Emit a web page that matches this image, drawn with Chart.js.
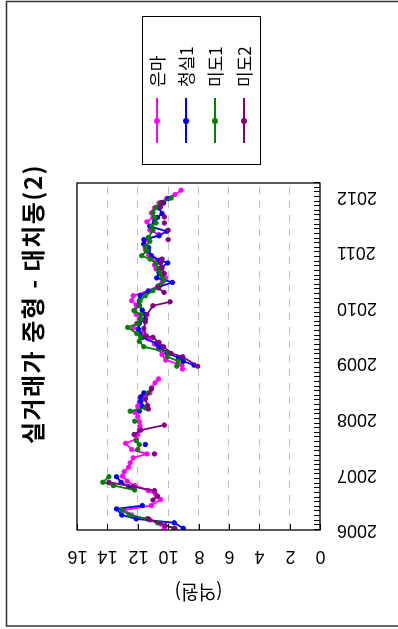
<!DOCTYPE html>
<html>
<head>
<meta charset="utf-8">
<script src="https://cdn.jsdelivr.net/npm/chart.js@4.4.1/dist/chart.umd.min.js"></script>
<style>
  html, body { margin: 0; padding: 0; background: #fff; overflow: hidden; }
  body { width: 398px; height: 629px; position: relative; }
  /* the R plot was saved sideways, so draw it upright and turn it */
  #wrap { position: absolute; left: 0; top: 0; width: 629px; height: 398px;
          transform-origin: 0 0; transform: translate(0, 629px) rotate(-90deg); }
</style>
</head>
<body>
<div id="wrap"><canvas id="chart" width="629" height="398"></canvas></div>
<script>
// --- Data ---

const chartTitle = '실거래가 중형 - 대치동(2)';
const yTitle = '(억원)';
const seriesNames = ['은마', '청실1', '미도1', '미도2'];
const seriesColors = ['#ff00ff', '#0000ff', '#008000', '#800080'];
const yearTicks = [2006, 2007, 2008, 2009, 2010, 2011, 2012];
const priceTicks = [0, 2, 4, 6, 8, 10, 12, 14, 16];

// 은마
const eunmaT = [2006.03, 2006.11, 2006.18, 2006.27, 2006.36, 2006.44, 2006.55, 2006.63, 2006.71, 2006.80, 2006.88, 2006.97,
  2007.05, 2007.13, 2007.21, 2007.30, 2007.37, 2007.45, 2007.56, 2007.64, 2007.72, 2007.80, 2007.87, 2007.95,
  2008.04, 2008.12, 2008.23, 2008.30, 2008.38, 2008.47, 2008.56, 2008.65, 2008.72, 2008.80, 2008.90, 2008.97,
  2009.06, 2009.16, 2009.26, 2009.35, 2009.44, 2009.55, 2009.64, 2009.72, 2009.80, 2009.88, 2009.96,
  2010.05, 2010.13, 2010.22, 2010.31, 2010.39, 2010.46, 2010.54, 2010.62, 2010.70, 2010.77, 2010.88, 2010.96,
  2011.05, 2011.15, 2011.23, 2011.32, 2011.40, 2011.47, 2011.55, 2011.63, 2011.71, 2011.80, 2011.89, 2011.97,
  2012.04, 2012.12];
const eunmaV = [10.25, 10.5, 11.2, 12.4, 12.9, 11.1, 10.5, 10.8, 11.3, 12.2, 12.7, 13.0,
  12.9, 12.6, 12.5, 12.3, 11.4, 12.4, 12.8, 12.1, 12.0, 11.9, 11.85, 11.9,
  12.0, 12.2, 12.0, 11.9, 11.85, 11.2, 11.1, 10.86, 10.64, null, 9.05, 9.1,
  10.16, 10.4, 10.64, 10.9, 11.3, 11.7, 12.3, 12.07, 11.9, 12.1, 12.2,
  12.1, 12.4, 12.3, 11.3, 10.7, 10.4, 10.16, 10.5, 10.8, 10.9, 10.9, 11.3,
  11.5, 11.6, 11.4, 10.6, 11.2, 11.2, 11.4, 11.0, 11.1, 10.9, 10.6, 10.1,
  9.55, 9.15];

// 청실1
const cheongsilT = [2006.03, 2006.13, 2006.20, 2006.27, 2006.38, 2006.44, 2006.60, 2006.78, 2006.86, 2006.96,
  2007.25, 2007.54, 2007.85,
  2008.14, 2008.23, 2008.32, 2008.40, 2008.47, 2008.75, 2008.97,
  2009.04, 2009.10, 2009.20, 2009.30, 2009.36, 2009.47, 2009.55, 2009.62, 2009.72, 2009.80, 2009.88, 2009.96,
  2010.05, 2010.13, 2010.22, 2010.30, 2010.38, 2010.46, 2010.54, 2010.63, 2010.72, 2010.81, 2010.86, 2010.94,
  2011.03, 2011.09, 2011.15, 2011.23, 2011.30, 2011.38, 2011.47, 2011.55, 2011.63, 2011.70, 2011.80, 2011.89, 2011.97];
const cheongsilV = [9.0, 9.6, 12.1, 13.05, 13.4, 11.7, null, 12.6, 13.1, 13.4,
  null, 11.5, null,
  11.9, 11.7, 11.8, 11.8, 11.6, null, 8.3,
  9.0, 9.33, 10.1, 10.6, 10.75, 11.7, 11.9, 11.96, 11.9, 11.5, 11.5, 11.7,
  11.9, 11.9, 11.85, 11.3, 10.6, 9.72, 10.75, 10.6, 10.5, 10.03, 10.6, 11.1,
  11.3, 11.3, 11.6, 11.6, 10.6, 10.1, 11.2, 10.9, 10.7, 10.4, 10.6, 10.3, 10.0];

// 미도1
const mido1T = [2006.03, 2006.13, 2006.20, 2006.27, 2006.36, 2006.55, 2006.72, 2006.80, 2006.86, 2006.96,
  2007.20, 2007.45, 2007.54, 2007.61, 2007.80, 2007.96,
  2008.05, 2008.14, 2008.20, 2008.35, 2008.47, 2008.75, 2008.95,
  2009.04, 2009.12, 2009.20, 2009.30, 2009.40, 2009.47, 2009.54, 2009.65, 2009.72, 2009.80, 2009.88, 2009.95,
  2010.04, 2010.13, 2010.22, 2010.31, 2010.40, 2010.49, 2010.56, 2010.63, 2010.70, 2010.80, 2010.88, 2010.94,
  2011.03, 2011.10, 2011.20, 2011.27, 2011.40, 2011.47, 2011.53, 2011.63, 2011.72, 2011.81, 2011.89, 2011.98];
const mido1V = [9.55, 10.7, 11.4, 12.55, 13.05, null, 12.2, 13.6, 14.3, 13.9,
  null, 12.0, 11.9, 12.1, null, 12.2,
  null, 12.5, 11.5, null, 11.3, null, 9.43,
  9.33, 10.05, 10.0, 11.6, 11.9, 11.8, 12.07, 12.66, 12.0, 11.8, 11.8, 12.25,
  11.9, 11.85, 11.5, 11.0, 10.6, 10.3, 10.4, 10.5, 10.64, 10.8, 11.2, 11.74,
  11.4, 11.5, 11.2, 11.3, 11.0, 11.1, 10.8, 10.9, 11.0, 10.8, 10.5, 9.8];

// 미도2
const mido2T = [2006.03, 2006.08, 2006.20, 2006.40, 2006.54, 2006.61, 2006.71, 2006.78, 2006.86,
  2007.10, 2007.37, 2007.55, 2007.72, 2007.80, 2007.89,
  2008.05, 2008.18, 2008.24, 2008.36, 2008.54, 2008.75, 2008.95,
  2009.12, 2009.18, 2009.30, 2009.38, 2009.47, 2009.50, 2009.63, 2009.75, 2009.88,
  2010.04, 2010.11, 2010.20, 2010.28, 2010.36, 2010.50, 2010.62, 2010.72, 2010.81, 2010.88,
  2011.05, 2011.23, 2011.32, 2011.40, 2011.47, 2011.53, 2011.58, 2011.64, 2011.73, 2011.82, 2011.90];
const mido2V = [9.6, 10.2, 11.3, null, 11.0, 10.7, 10.9, 12.3, 13.9,
  null, 10.9, null, 12.24, 11.8, 10.25,
  null, 11.3, 11.35, 11.5, 11.1, null, 8.05,
  9.04, 9.8, 10.3, 10.6, 11.0, 11.45, 11.6, 11.5, 11.4,
  11.0, 9.87, null, 10.27, 10.64, null, 10.25, 10.4, 10.5, 10.4,
  null, 10.0, null, 10.0, null, 10.25, null, 10.25, null, 10.5, 10.4];

const FONT = "'Liberation Sans', 'Noto Sans CJK KR', sans-serif";
const KFONT = "'Noto Sans CJK KR', 'Liberation Sans', sans-serif";

function pairs(ts, vs) {
    return ts.map((t, i) => ({ x: t, y: vs[i] }));
}

const seriesData = [
    pairs(eunmaT, eunmaV),
    pairs(cheongsilT, cheongsilV),
    pairs(mido1T, mido1V),
    pairs(mido2T, mido2V)
];

// --- Extra drawing: box, inward ticks, rug, rotated labels, title, legend ---

const decor = {
    id: 'decor',
    beforeDraw(chart) {
        const c = chart.ctx;
        c.save();
        c.fillStyle = '#fff';
        c.fillRect(0, 0, chart.width, chart.height);
        c.strokeStyle = '#333';
        c.lineWidth = 1.5;
        c.strokeRect(3, 6.5, 624.5, 600);
        c.restore();
    },
    afterDraw(chart) {
        const c = chart.ctx;
        const a = chart.chartArea;
        const xs = chart.scales.x, ys = chart.scales.y;
        c.save();

        // plot box
        c.strokeStyle = '#000';
        c.lineWidth = 1.3;
        c.strokeRect(a.left, a.top, a.right - a.left, a.bottom - a.top);

        // price ticks (inward) and their labels, written along the axis
        c.lineWidth = 1;
        c.fillStyle = '#000';
        c.font = '18px ' + FONT;
        c.textAlign = 'center';
        c.textBaseline = 'middle';
        priceTicks.forEach(v => {
            const y = Math.round(ys.getPixelForValue(v)) + 0.5;
            c.beginPath();
            c.moveTo(a.left, y);
            c.lineTo(a.left + 6, y);
            c.stroke();
            c.save();
            c.translate(73, y);
            c.rotate(-Math.PI / 2);
            c.fillText(String(v), 0, 0);
            c.restore();
        });

        // monthly rug along the time axis
        for (let m = 0; xs.min + m / 12 <= xs.max + 1e-6; m++) {
            const x = Math.round(xs.getPixelForValue(xs.min + m / 12)) + 0.5;
            c.beginPath();
            c.moveTo(x, a.bottom);
            c.lineTo(x, a.bottom - 6);
            c.stroke();
        }

        // y axis title
        c.save();
        c.font = '19px ' + KFONT;
        c.translate(37, (a.top + a.bottom) / 2);
        c.rotate(-Math.PI / 2);
        c.fillText(yTitle, 0, 0);
        c.restore();

        // main title
        c.font = 'bold 24px ' + KFONT;
        c.letterSpacing = '1.5px';
        c.fillText(chartTitle, 325, 33);
        c.letterSpacing = '0px';

        // legend
        const lx = 464, ly = 142, lw = 148, lh = 118;
        c.strokeStyle = '#000';
        c.lineWidth = 1;
        c.strokeRect(lx + 0.5, ly + 0.5, lw, lh);
        c.font = '17px ' + KFONT;
        c.textAlign = 'left';
        seriesNames.forEach((name, i) => {
            const y = 157 + i * 29;
            c.strokeStyle = seriesColors[i];
            c.fillStyle = seriesColors[i];
            c.lineWidth = 2;
            c.beginPath();
            c.moveTo(486, y);
            c.lineTo(531, y);
            c.stroke();
            c.beginPath();
            c.arc(508, y, 3, 0, Math.PI * 2);
            c.fill();
            c.fillStyle = '#000';
            c.fillText(name, 542, y + 1);
        });

        c.restore();
    }
};

// --- Chart ---

const ctx = document.getElementById('chart').getContext('2d');
new Chart(ctx, {
    type: 'line',
    data: {
        datasets: seriesData.map((d, i) => ({
            label: seriesNames[i],
            data: d,
            borderColor: seriesColors[i],
            backgroundColor: seriesColors[i],
            pointBackgroundColor: seriesColors[i],
            pointBorderColor: seriesColors[i],
            borderWidth: 1.8,
            pointRadius: 2.2,
            pointBorderWidth: 1,
            spanGaps: false,
            tension: 0,
            order: 4 - i
        }))
    },
    options: {
        responsive: false,
        animation: false,
        layout: { padding: { left: 0, right: 183, top: 77, bottom: 0 } },
        scales: {
            x: {
                type: 'linear',
                min: 2006,
                max: 2012.25,
                afterBuildTicks: s => { s.ticks = yearTicks.map(v => ({ value: v })); },
                afterFit: s => { s.height = 78; },
                ticks: {
                    minRotation: 90,
                    maxRotation: 90,
                    padding: 17,
                    color: '#000',
                    font: { family: FONT, size: 18 },
                    callback: v => String(v)
                },
                grid: { display: false, drawTicks: false },
                border: { display: false }
            },
            y: {
                min: 0,
                max: 16,
                afterBuildTicks: s => { s.ticks = priceTicks.map(v => ({ value: v })); },
                afterFit: s => { s.width = 99; },
                ticks: { display: false },
                grid: {
                    drawTicks: false,
                    lineWidth: 1,
                    color: c => (c.tick && (c.tick.value === 0 || c.tick.value === 16)) ? 'rgba(0,0,0,0)' : '#bebebe'
                },
                border: { display: false, dash: [7, 7] }
            }
        },
        plugins: {
            legend: { display: false },
            title: { display: false },
            tooltip: { enabled: false }
        }
    },
    plugins: [decor]
});
</script>
</body>
</html>
